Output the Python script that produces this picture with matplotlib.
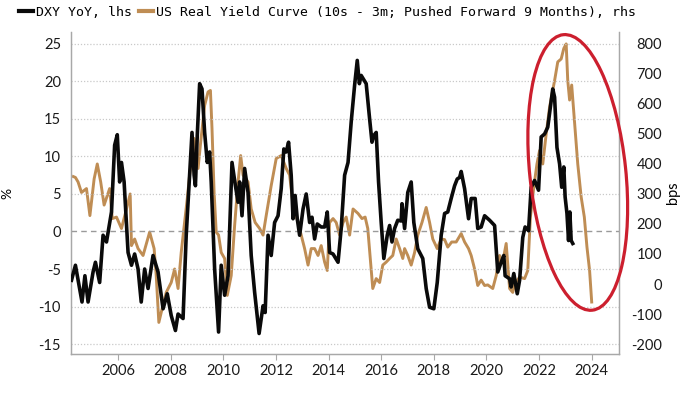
import matplotlib
matplotlib.use("Agg")
import matplotlib.pyplot as plt
from matplotlib.patches import Ellipse
from matplotlib.transforms import IdentityTransform
import numpy as np

# DXY YoY (%), lhs
dxy_year = [2004.23, 2004.38, 2004.63, 2004.74, 2004.86, 2005.05, 2005.14, 2005.30, 2005.43, 2005.56,
            2005.75, 2005.87, 2005.97, 2006.06, 2006.13, 2006.23, 2006.38, 2006.51, 2006.63, 2006.76,
            2006.88, 2007.01, 2007.14, 2007.33, 2007.52, 2007.71, 2007.87, 2008.02, 2008.18, 2008.28,
            2008.47, 2008.59, 2008.72, 2008.81, 2008.89, 2008.94, 2009.01, 2009.10, 2009.19, 2009.29,
            2009.39, 2009.48, 2009.54, 2009.67, 2009.82, 2009.92, 2010.05, 2010.18, 2010.33, 2010.46,
            2010.56, 2010.62, 2010.71, 2010.81, 2010.94, 2011.06, 2011.19, 2011.36, 2011.51, 2011.59,
            2011.70, 2011.82, 2011.95, 2012.08, 2012.20, 2012.30, 2012.39, 2012.48, 2012.58, 2012.65,
            2012.73, 2012.81, 2012.90, 2013.03, 2013.15, 2013.28, 2013.37, 2013.47, 2013.57, 2013.72,
            2013.85, 2013.95, 2014.04, 2014.17, 2014.36, 2014.48, 2014.61, 2014.74, 2014.86, 2014.99,
            2015.09, 2015.17, 2015.24, 2015.43, 2015.56, 2015.65, 2015.72, 2015.81, 2015.90, 2016.00,
            2016.10, 2016.23, 2016.32, 2016.41, 2016.51, 2016.63, 2016.76, 2016.79, 2016.89, 2017.01,
            2017.14, 2017.24, 2017.39, 2017.58, 2017.71, 2017.84, 2018.00, 2018.13, 2018.28, 2018.41,
            2018.53, 2018.66, 2018.79, 2018.89, 2018.98, 2019.04, 2019.17, 2019.32, 2019.42, 2019.57,
            2019.67, 2019.80, 2019.93, 2020.12, 2020.31, 2020.43, 2020.56, 2020.66, 2020.71, 2020.88,
            2020.94, 2021.04, 2021.17, 2021.26, 2021.38, 2021.47, 2021.60, 2021.70, 2021.83, 2021.98,
            2022.08, 2022.21, 2022.33, 2022.43, 2022.52, 2022.59, 2022.68, 2022.78, 2022.86, 2022.94,
            2022.99, 2023.06, 2023.12, 2023.17, 2023.22, 2023.28]
dxy_yoy = [-6.5, -4.5, -9.4, -5.9, -9.4, -5.4, -4.1, -6.8, -0.5, -1.4,
           2.6, 11.5, 12.9, 6.6, 9.2, 6.6, -2.8, -4.5, -3.0, -5.0,
           -9.4, -5.0, -7.6, -3.2, -5.4, -10.3, -8.3, -11.2, -13.2, -11.0,
           -11.6, -0.5, 7.5, 13.2, 7.5, 6.1, 12.8, 19.7, 19.0, 13.2,
           9.2, 10.6, 6.6, -5.0, -13.4, -4.5, -8.5, -5.9, 9.2, 6.1,
           3.9, 6.6, 2.1, 8.4, 5.2, -3.2, -8.1, -13.6, -9.9, -10.8,
           -0.5, -3.2, 1.2, 2.1, 5.7, 11.0, 10.6, 11.9, 7.5, 1.7,
           4.8, 1.7, -0.5, 3.0, 5.0, 1.2, 1.9, -1.0, 1.0, 0.6,
           0.6, 2.6, -2.8, -3.0, -4.1, 0.4, 7.5, 9.2, 14.6, 19.5,
           22.8, 19.7, 20.8, 19.7, 15.0, 11.9, 12.8, 13.2, 6.6, 1.2,
           -3.6, -0.5, 0.8, -1.4, 0.4, 1.5, 1.4, 3.7, 0.4, 5.2,
           6.6, 1.2, -2.3, -3.6, -7.6, -10.1, -10.3, -6.8, -0.5, 2.4,
           2.6, 4.4, 6.1, 7.0, 7.2, 8.0, 5.7, 1.7, 4.4, 4.4,
           0.4, 0.6, 2.1, 1.5, 0.8, -5.4, -4.1, -3.2, -5.9, -6.3,
           -7.4, -5.6, -8.3, -6.5, -0.8, 0.6, 0.1, 5.9, 6.8, 5.5,
           12.6, 13.0, 13.9, 16.6, 19.0, 17.9, 11.2, 9.0, 5.9, 8.6,
           4.6, 2.4, -1.2, 2.6, -1.2, -1.6]

# US real yield curve, 10s - 3m, pushed forward 9 months (bps), rhs
curve_year = [2004.30, 2004.38, 2004.48, 2004.61, 2004.80, 2004.93, 2005.09, 2005.21, 2005.34, 2005.47,
              2005.59, 2005.68, 2005.78, 2005.94, 2006.13, 2006.32, 2006.46, 2006.51, 2006.63, 2006.76,
              2006.95, 2007.20, 2007.37, 2007.45, 2007.55, 2007.64, 2007.83, 2008.02, 2008.15, 2008.28,
              2008.40, 2008.53, 2008.63, 2008.72, 2008.89, 2009.04, 2009.14, 2009.29, 2009.42, 2009.51,
              2009.57, 2009.65, 2009.73, 2009.82, 2009.92, 2010.05, 2010.15, 2010.30, 2010.43, 2010.56,
              2010.66, 2010.75, 2010.94, 2011.06, 2011.21, 2011.38, 2011.51, 2011.63, 2011.82, 2012.01,
              2012.20, 2012.39, 2012.52, 2012.65, 2012.84, 2012.96, 2013.09, 2013.22, 2013.34, 2013.47,
              2013.60, 2013.72, 2013.85, 2013.95, 2014.04, 2014.17, 2014.29, 2014.42, 2014.55, 2014.67,
              2014.80, 2014.93, 2015.12, 2015.27, 2015.39, 2015.49, 2015.62, 2015.68, 2015.81, 2015.94,
              2016.06, 2016.19, 2016.32, 2016.44, 2016.57, 2016.70, 2016.82, 2016.89, 2017.01, 2017.14,
              2017.27, 2017.39, 2017.55, 2017.71, 2017.84, 2017.96, 2018.13, 2018.28, 2018.41, 2018.53,
              2018.68, 2018.85, 2019.04, 2019.17, 2019.32, 2019.42, 2019.55, 2019.67, 2019.80, 2019.93,
              2020.05, 2020.24, 2020.37, 2020.50, 2020.62, 2020.75, 2020.88, 2021.00, 2021.07, 2021.26,
              2021.45, 2021.57, 2021.67, 2021.80, 2021.92, 2022.02, 2022.14, 2022.27, 2022.40, 2022.59,
              2022.71, 2022.84, 2022.94, 2023.03, 2023.09, 2023.16, 2023.24, 2023.35, 2023.47, 2023.60,
              2023.72, 2023.82, 2023.92, 2024.00]
curve_bps = [358, 355, 340, 305, 318, 228, 350, 400, 340, 263,
             295, 318, 218, 223, 185, 250, 300, 128, 150, 118,
             95, 173, 118, 28, -128, -95, -28, 5, 50, -15,
             105, 205, 285, 363, 485, 385, 473, 595, 640, 645,
             518, 305, 173, 163, 105, 85, -38, 28, 195, 340,
             428, 363, 340, 250, 205, 185, 163, 228, 328, 418,
             428, 385, 363, 263, 205, 163, 118, 63, 118, 118,
             95, 128, 73, 45, 205, 218, 205, 163, 205, 223,
             163, 250, 235, 218, 223, 185, 50, -15, 18, 5,
             63, 73, 85, 95, 150, 118, 85, 118, 95, 63,
             105, 163, 205, 255, 205, 150, 118, 150, 148, 123,
             140, 140, 168, 140, 118, 95, 50, -5, 13, -5,
             -3, -15, 28, 95, 73, 135, -15, -28, 0, 23,
             18, 45, 223, 323, 400, 445, 400, 500, 590, 678,
             740, 750, 785, 800, 678, 613, 663, 535, 400, 290,
             223, 123, 45, -60]

left_ticks = [-15, -10, -5, 0, 5, 10, 15, 20, 25]
right_ticks = [-200, -100, 0, 100, 200, 300, 400, 500, 600, 700, 800]
year_ticks = [2006, 2008, 2010, 2012, 2014, 2016, 2018, 2020, 2022, 2024]

BLACK = "#0a0a0a"
TAN = "#bf8d54"
GRID = "#c9c9c9"
SPINE = "#a8a8a8"
TICKFONT = "Lato"

fig = plt.figure(figsize=(7, 3.94), dpi=100)
ax = fig.add_axes([0.101, 0.1015, 0.783, 0.8175])
ax2 = ax.twinx()

# left -> right scale: bps = 25 * pct + 175
ylo, yhi = -16.33, 26.6
ax.set_ylim(ylo, yhi)
ax2.set_ylim(25 * ylo + 175, 25 * yhi + 175)
ax.set_xlim(2004.2, 2025.03)

# grid + zero line
for t in left_ticks:
    if t == 0:
        ax.axhline(t, color="#9a9a9a", lw=1.0, ls=(0, (4, 3)), zorder=1)
    else:
        ax.axhline(t, color=GRID, lw=0.9, ls=(0, (1, 1.5)), zorder=1)

ax2.plot(curve_year, curve_bps, color=TAN, lw=2.1, zorder=2)
ax.plot(dxy_year, dxy_yoy, color=BLACK, lw=2.6, zorder=3)
ax.set_zorder(ax2.get_zorder() + 1)
ax.patch.set_visible(False)

# axes styling
for a in (ax, ax2):
    a.spines["top"].set_visible(False)
    for s in ("left", "right", "bottom"):
        a.spines[s].set_color(SPINE)
        a.spines[s].set_linewidth(0.9)

ax.set_yticks(left_ticks)
ax.set_yticklabels([str(t) for t in left_ticks], fontsize=10.5, family=TICKFONT, color="#1a1a1a")
ax.tick_params(axis="y", length=0, pad=7)
ax.set_xticks(year_ticks)
ax.set_xticklabels([str(t) for t in year_ticks], fontsize=10.5, family=TICKFONT, color="#1a1a1a")
ax.tick_params(axis="x", length=4, width=0.8, color=SPINE, pad=3)

ax2.set_yticks(right_ticks)
ax2.set_yticklabels([str(t) for t in right_ticks], fontsize=10.5, family=TICKFONT, color="#1a1a1a")
ax2.tick_params(axis="y", length=0, pad=31)
for lab in ax2.get_yticklabels():
    lab.set_horizontalalignment("right")

ax.set_ylabel("%", fontsize=10, family=TICKFONT, labelpad=18)
ax2.set_ylabel("bps", fontsize=10.5, family=TICKFONT, rotation=90, labelpad=3)

# legend at top
handles = [plt.Line2D([], [], color=BLACK, lw=3),
           plt.Line2D([], [], color=TAN, lw=3)]
fig.legend(handles, ["DXY YoY, lhs", "US Real Yield Curve (10s - 3m; Pushed Forward 9 Months), rhs"],
           loc="upper left", bbox_to_anchor=(0.01, 1.015), ncol=2, frameon=False,
           handlelength=1.1, handletextpad=0.2, columnspacing=0.5,
           prop={"family": "DejaVu Sans Mono", "size": 9.5})

# red highlight ellipse around the recent episode
cx, cy = ax.transData.transform((2023.47, 7.87))
ring = Ellipse((cx, cy), width=96, height=277, angle=6, fill=False,
               edgecolor="#cc1f2e", lw=2.3, transform=IdentityTransform(), clip_on=False, zorder=5)
ax.add_artist(ring)

fig.savefig("out.png", dpi=100)
